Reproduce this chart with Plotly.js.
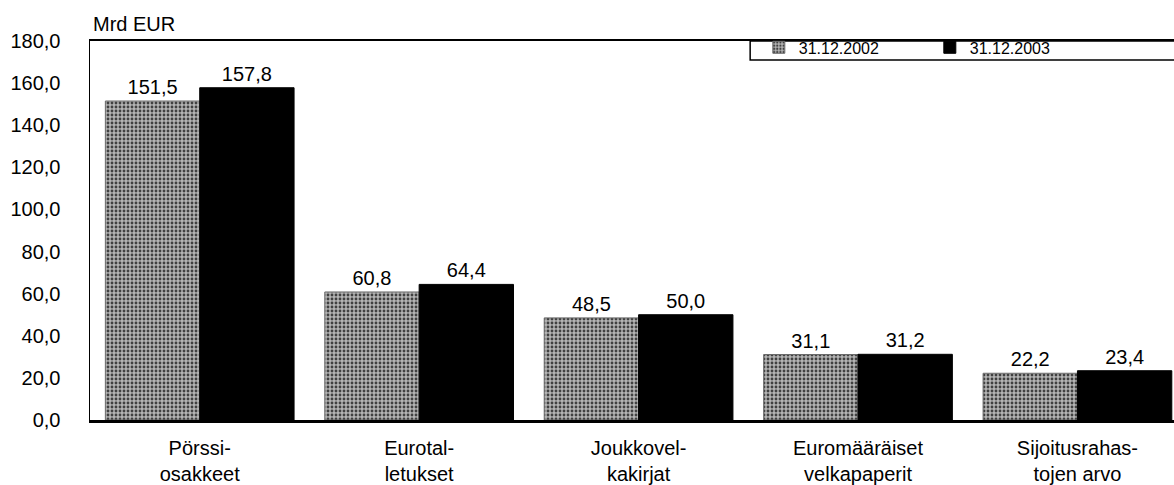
<!DOCTYPE html>
<html>
<head>
<meta charset="utf-8">
<script src="https://cdn.plot.ly/plotly-3.0.1.min.js"></script>
<style>html,body{margin:0;padding:0;background:#fff;}</style>
</head>
<body>
<div id="chart" style="width:1174px;height:485px;"></div>
<script>
const categories = ["Pörssi-<br>osakkeet", "Eurotal-<br>letukset", "Joukkovel-<br>kakirjat", "Euromääräiset<br>velkapaperit", "Sijoitusrahas-<br>tojen arvo"];
const seriesNames = ["31.12.2002", "31.12.2003"];
const values2002 = [151.5, 60.8, 48.5, 31.1, 22.2];
const values2003 = [157.8, 64.4, 50.0, 31.2, 23.4];
const yTitle = "Mrd EUR";

const fmt = v => v.toFixed(1).replace('.', ',');
const FONT = "Liberation Sans, Arial, sans-serif";

const traces = [
  {
    type: 'bar', name: seriesNames[0], x: categories, y: values2002,
    text: values2002.map(fmt), textposition: 'outside', cliponaxis: false,
    textfont: {family: FONT, size: 20, color: '#000'},
    marker: {color: '#9c9c9c', line: {color: '#6a6a6a', width: 1},
             pattern: {shape: '.', fgcolor: '#404040', bgcolor: '#b4b4b4', size: 4, solidity: 0.4}},
    hoverinfo: 'skip'
  },
  {
    type: 'bar', name: seriesNames[1], x: categories, y: values2003,
    text: values2003.map(fmt), textposition: 'outside', cliponaxis: false,
    textfont: {family: FONT, size: 20, color: '#000'},
    marker: {color: '#000000', line: {color: '#000000', width: 1}},
    hoverinfo: 'skip'
  }
];

const layout = {
  width: 1174, height: 485,
  margin: {l: 90, r: 0, t: 41, b: 65, pad: 0},
  paper_bgcolor: '#fff', plot_bgcolor: '#fff',
  barmode: 'group', bargap: 0.14, bargroupgap: 0,
  separators: ',.',
  font: {family: FONT, color: '#000', size: 20},
  showlegend: true,
  legend: {
    orientation: 'h', x: 0.617, xanchor: 'left', y: 1.028, yanchor: 'top',
    font: {family: FONT, size: 16, color: '#000'},
    bgcolor: 'rgba(0,0,0,0)', borderwidth: 0,
    entrywidth: 126, entrywidthmode: 'pixels', traceorder: 'normal'
  },
  xaxis: {
    type: 'category', range: [-0.5, 4.44], fixedrange: true,
    showline: true, linecolor: '#000', linewidth: 2.5, mirror: true,
    showgrid: false, zeroline: false, ticks: '',
    ticklabelstandoff: 8,
    tickfont: {family: FONT, size: 20, color: '#000'}
  },
  yaxis: {
    range: [0, 180], dtick: 20, tick0: 0, tickformat: '.1f', fixedrange: true,
    showline: true, linecolor: '#000', linewidth: 1.5, mirror: true,
    showgrid: false, zeroline: false, ticks: '',
    ticklabelstandoff: 24,
    tickfont: {family: FONT, size: 20, color: '#000'}
  },
  shapes: [
    {type: 'rect', xref: 'paper', yref: 'paper', x0: 0.609, x1: 1.02, y0: 0.95, y1: 1,
     line: {color: '#000', width: 1.5}, fillcolor: 'rgba(0,0,0,0)'}
  ],
  annotations: [
    {text: yTitle, xref: 'paper', yref: 'paper', x: 0, y: 1, xanchor: 'left', yanchor: 'bottom',
     xshift: 1, yshift: 4, showarrow: false, font: {family: FONT, size: 20, color: '#000'}}
  ]
};

Plotly.newPlot('chart', traces, layout, {displayModeBar: false, staticPlot: true});
</script>
</body>
</html>
